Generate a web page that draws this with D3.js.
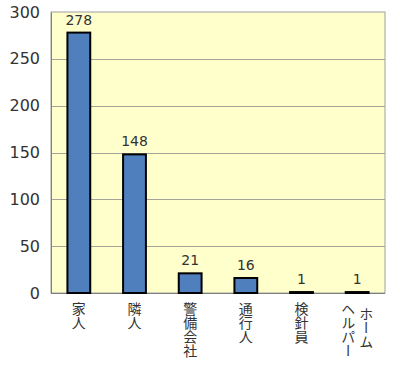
<!DOCTYPE html>
<html><head><meta charset="utf-8">
<script src="https://cdn.jsdelivr.net/npm/d3@7"></script>
<style>html,body{margin:0;padding:0;background:#fff;}</style>
</head><body>
<svg id="c" width="400" height="368"></svg>
<script>
const categories = ["家人", "隣人", "警備会社", "通行人", "検針員", "ホーム\nヘルパー"];
const values = [278, 148, 21, 16, 1, 1];
const yTicks = [0, 50, 100, 150, 200, 250, 300];

const svg = d3.select("#c");
const m = {left: 51, top: 12, right: 385, bottom: 293};
const x = d3.scaleBand().domain(d3.range(categories.length)).range([m.left, m.right]).paddingInner(0.59).paddingOuter(0.295);
const y = d3.scaleLinear().domain([0, 300]).range([m.bottom, m.top]);

svg.append("rect").attr("x", m.left).attr("y", m.top).attr("width", m.right - m.left).attr("height", m.bottom - m.top)
  .attr("fill", "#ffffcc").attr("stroke", "#a0a0a0").attr("stroke-width", 1);

svg.selectAll(".grid").data(yTicks.filter(d => d > 0 && d < 300)).enter().append("line")
  .attr("x1", m.left).attr("x2", m.right).attr("y1", d => Math.round(y(d)) + 0.5).attr("y2", d => Math.round(y(d)) + 0.5)
  .attr("stroke", "#a4a49a").attr("stroke-width", 1);

const yAxis = svg.append("g").attr("transform", `translate(${m.left},0)`)
  .call(d3.axisLeft(y).tickValues(yTicks).tickSize(0).tickPadding(11));
yAxis.select(".domain").attr("stroke", "#808080");
yAxis.selectAll("text").attr("font-family", "DejaVu Sans").attr("font-size", 16).attr("fill", "#333");

svg.append("line").attr("x1", m.left).attr("x2", m.right).attr("y1", m.bottom + 0.5).attr("y2", m.bottom + 0.5).attr("stroke", "#808080");

svg.selectAll(".bar").data(values).enter().append("rect")
  .attr("x", (d, i) => x(i)).attr("width", x.bandwidth())
  .attr("y", d => y(d)).attr("height", d => y(0) - y(d))
  .attr("fill", "#4f7fbd").attr("stroke", "#000").attr("stroke-width", 2);

svg.selectAll(".val").data(values).enter().append("text")
  .attr("x", (d, i) => x(i) + x.bandwidth() / 2).attr("y", d => y(d) - 8)
  .attr("text-anchor", "middle").attr("font-family", "DejaVu Sans").attr("font-size", 14).attr("fill", "#333")
  .text(d => d);

categories.forEach((c, i) => {
  const cols = c.split("\n");
  const cx = x(i) + x.bandwidth() / 2;
  const n = cols.length;
  cols.forEach((t, j) => {
    const off = (n - 1) / 2 * 18 - j * 18;
    svg.append("text")
      .attr("x", cx + off).attr("y", 302 + (n > 1 && j === 0 ? 5 : 0))
      .attr("font-family", "Noto Sans CJK JP").attr("font-size", 14).attr("fill", "#333")
      .style("writing-mode", "vertical-rl").style("text-orientation", "upright")
      .text(t);
  });
});
</script>
</body></html>
